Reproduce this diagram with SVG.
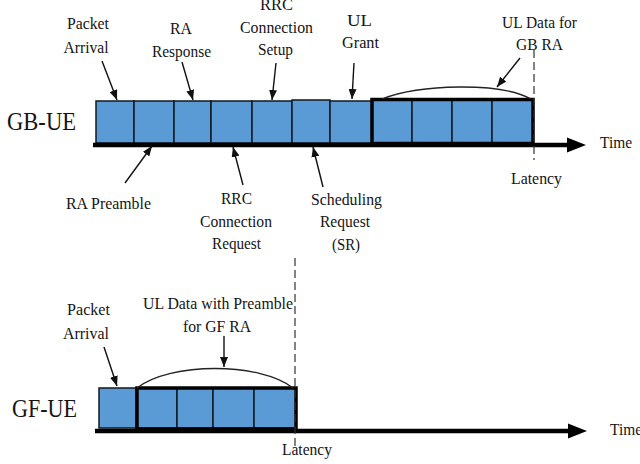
<svg xmlns="http://www.w3.org/2000/svg" width="640" height="464" viewBox="0 0 640 464">
  <defs>
    <style>
      .lbl { font-family: "Liberation Serif", "Times New Roman", serif; font-size: 17px; fill: #141414; text-anchor: middle; }
      .ue { font-family: "Liberation Serif", "Times New Roman", serif; font-size: 26px; fill: #141414; }
      .slot { fill: #5b9bd5; stroke: #101820; stroke-width: 1.5; }
      .group { fill: none; stroke: #000; stroke-width: 3.5; }
      .axis { stroke: #000; stroke-width: 4.5; fill: none; }
      .ptr { stroke: #111; stroke-width: 1.4; fill: none; marker-end: url(#tip); }
      .arc { stroke: #222; stroke-width: 1.3; fill: none; }
      .dash { stroke: #333; stroke-width: 1.2; stroke-dasharray: 8 4; fill: none; }
    </style>
    <marker id="tip" viewBox="0 0 10 8" refX="10" refY="4" markerWidth="10" markerHeight="8" markerUnits="userSpaceOnUse" orient="auto">
      <path d="M0,0 L10,4 L0,8 Z" fill="#111"/>
    </marker>
  </defs>

  <!-- Grant-based UE timeline -->
  <g id="gb-ue">
    <text class="ue" x="7" y="130" textLength="69" lengthAdjust="spacingAndGlyphs">GB-UE</text>
    <rect class="slot" x="96" y="101" width="38" height="42"/>
    <rect class="slot" x="134" y="101" width="40" height="42"/>
    <rect class="slot" x="174" y="101" width="37" height="42"/>
    <rect class="slot" x="211" y="101" width="41" height="42"/>
    <rect class="slot" x="252" y="101" width="40" height="42"/>
    <rect class="slot" x="292" y="100" width="38" height="43"/>
    <rect class="slot" x="330" y="101" width="42" height="42"/>
    <rect class="slot" x="372" y="100" width="40" height="43"/>
    <rect class="slot" x="412" y="100" width="40" height="43"/>
    <rect class="slot" x="452" y="100" width="40" height="43"/>
    <rect class="slot" x="492" y="100" width="41" height="43"/>
    <rect class="group" x="372" y="99.5" width="161" height="44"/>
    <line class="axis" x1="93" y1="145" x2="570" y2="145"/>
    <path d="M567,137.5 L586,145 L567,152.5 Z" fill="#000"/>
    <text class="lbl" x="600" y="148" style="text-anchor:start" textLength="32" lengthAdjust="spacingAndGlyphs">Time</text>
  </g>

  <g id="gb-labels">
    <text class="lbl" x="88" y="29" textLength="42" lengthAdjust="spacingAndGlyphs">Packet</text>
    <text class="lbl" x="86" y="53" textLength="45" lengthAdjust="spacingAndGlyphs">Arrival</text>
    <text class="lbl" x="181" y="34" textLength="22" lengthAdjust="spacingAndGlyphs">RA</text>
    <text class="lbl" x="181.5" y="57" textLength="59" lengthAdjust="spacingAndGlyphs">Response</text>
    <text class="lbl" x="276.5" y="10" textLength="33" lengthAdjust="spacingAndGlyphs">RRC</text>
    <text class="lbl" x="276.5" y="33" textLength="73" lengthAdjust="spacingAndGlyphs">Connection</text>
    <text class="lbl" x="275.5" y="55" textLength="35" lengthAdjust="spacingAndGlyphs">Setup</text>
    <text class="lbl" x="359.5" y="26" textLength="25" lengthAdjust="spacingAndGlyphs">UL</text>
    <text class="lbl" x="360.5" y="48" textLength="37" lengthAdjust="spacingAndGlyphs">Grant</text>
    <text class="lbl" x="539.5" y="28" textLength="75" lengthAdjust="spacingAndGlyphs">UL Data for</text>
    <text class="lbl" x="539.5" y="50" textLength="47" lengthAdjust="spacingAndGlyphs">GB RA</text>
    <text class="lbl" x="108.5" y="209" textLength="85" lengthAdjust="spacingAndGlyphs">RA Preamble</text>
    <text class="lbl" x="236.5" y="204" textLength="31" lengthAdjust="spacingAndGlyphs">RRC</text>
    <text class="lbl" x="236" y="227" textLength="72" lengthAdjust="spacingAndGlyphs">Connection</text>
    <text class="lbl" x="236.5" y="249" textLength="49" lengthAdjust="spacingAndGlyphs">Request</text>
    <text class="lbl" x="346.5" y="205" textLength="71" lengthAdjust="spacingAndGlyphs">Scheduling</text>
    <text class="lbl" x="345" y="227" textLength="50" lengthAdjust="spacingAndGlyphs">Request</text>
    <text class="lbl" x="346" y="250" textLength="28" lengthAdjust="spacingAndGlyphs">(SR)</text>
    <text class="lbl" x="536.5" y="184" textLength="51" lengthAdjust="spacingAndGlyphs">Latency</text>
  </g>

  <!-- Grant-free UE timeline -->
  <g id="gf-ue">
    <text class="ue" x="12" y="417" textLength="65" lengthAdjust="spacingAndGlyphs">GF-UE</text>
    <rect class="slot" x="99" y="388" width="37" height="40"/>
    <rect class="slot" x="137" y="388" width="40" height="40"/>
    <rect class="slot" x="177" y="388" width="36" height="40"/>
    <rect class="slot" x="213" y="388" width="41" height="40"/>
    <rect class="slot" x="254" y="388" width="42" height="40"/>
    <rect class="group" x="137" y="388" width="159" height="41"/>
    <line class="axis" x1="95" y1="431" x2="571" y2="431"/>
    <path d="M568,423.5 L587,431 L568,438.5 Z" fill="#000"/>
    <text class="lbl" x="610" y="435" style="text-anchor:start" textLength="32" lengthAdjust="spacingAndGlyphs">Time</text>
  </g>

  <g id="gf-labels">
    <text class="lbl" x="88.5" y="315" textLength="43" lengthAdjust="spacingAndGlyphs">Packet</text>
    <text class="lbl" x="86" y="339" textLength="46" lengthAdjust="spacingAndGlyphs">Arrival</text>
    <text class="lbl" x="218" y="309" textLength="150" lengthAdjust="spacingAndGlyphs">UL Data with Preamble</text>
    <text class="lbl" x="217" y="332" textLength="68" lengthAdjust="spacingAndGlyphs">for GF RA</text>
    <text class="lbl" x="307" y="455" textLength="50" lengthAdjust="spacingAndGlyphs">Latency</text>
  </g>

  <!-- pointers, spans and latency marks -->
  <g id="connectors">
    <line class="ptr" x1="102" y1="61" x2="117" y2="100"/>
    <line class="ptr" x1="182" y1="62" x2="193" y2="100"/>
    <line class="ptr" x1="276" y1="63" x2="272" y2="100"/>
    <line class="ptr" x1="354" y1="63" x2="352" y2="99"/>
    <line class="ptr" x1="520" y1="58" x2="497" y2="87"/>
    <line class="ptr" x1="125" y1="183" x2="152" y2="146"/>
    <line class="ptr" x1="243" y1="185" x2="233" y2="147"/>
    <line class="ptr" x1="323" y1="187" x2="313" y2="147"/>
    <line class="ptr" x1="104" y1="347" x2="117" y2="386"/>
    <line class="ptr" x1="224" y1="336" x2="224" y2="367"/>
    <path class="arc" d="M382,99 C420,84 500,82 531,99"/>
    <path class="arc" d="M137,388 C170,362 260,362 293,388"/>
    <line class="dash" x1="534" y1="50" x2="534" y2="160"/>
    <line class="dash" x1="295" y1="258" x2="295" y2="447"/>
  </g>
</svg>
